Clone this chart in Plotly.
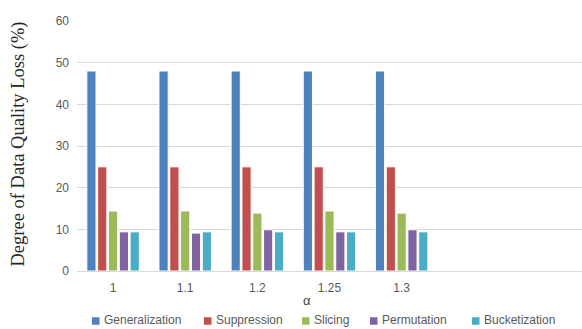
import plotly.graph_objects as go

# alpha values on the x axis (two spare slots are left empty on the right)
alphas = ["1", "1.1", "1.2", "1.25", "1.3"]
n_slots = 7

series_names = ["Generalization", "Suppression", "Slicing", "Permutation", "Bucketization"]
generalization = [48, 48, 48, 48, 48]
suppression = [25, 25, 25, 25, 25]
slicing = [14.4, 14.4, 13.9, 14.4, 13.9]
permutation = [9.4, 9.1, 9.9, 9.4, 9.9]
bucketization = [9.4, 9.4, 9.4, 9.4, 9.4]

colors = ["#4F81BD", "#C0504D", "#9BBB59", "#8064A2", "#4BACC6"]
series_values = [generalization, suppression, slicing, permutation, bucketization]

# figure geometry (pixels)
W, H = 582, 329
ML, MR, MT, MB = 77, 0, 21, 58
PW, PH = W - ML - MR, H - MT - MB


def px_x(px):
    return (px - ML) / PW


def px_y(py):
    return (H - MB - py) / PH


fig = go.Figure()
for name, vals, col in zip(series_names, series_values, colors):
    fig.add_trace(go.Bar(
        name=name, x=alphas, y=vals, showlegend=False,
        marker=dict(color=col, line=dict(color="white", width=1)),
    ))

tick_font = dict(family="Liberation Sans, Arial, sans-serif", size=12, color="#595959")
legend_font = dict(family="Liberation Sans, Arial, sans-serif", size=12, color="#595959")

# bottom legend row: small colour squares followed by the series names
legend_left = [92, 204, 302, 370, 472]
legend_cy = 321
sq = 7.5
shapes, annotations = [], []
for name, col, lx in zip(series_names, colors, legend_left):
    shapes.append(dict(
        type="rect", xref="paper", yref="paper",
        x0=px_x(lx), x1=px_x(lx + sq),
        y0=px_y(legend_cy + sq / 2), y1=px_y(legend_cy - sq / 2),
        fillcolor=col, line=dict(width=0), layer="above",
    ))
    annotations.append(dict(
        text=name, xref="paper", yref="paper",
        x=px_x(lx + sq + 2.5), y=px_y(legend_cy - 1),
        xanchor="left", yanchor="middle", showarrow=False, font=legend_font,
    ))

annotations += [
    dict(text="Degree of Data Quality Loss (%)", textangle=-90,
         xref="paper", yref="paper", x=px_x(18), y=px_y(144.5),
         xanchor="center", yanchor="middle", showarrow=False,
         font=dict(family="Liberation Serif, Times New Roman, serif", size=18.5, color="#262626")),
    dict(text="α", xref="paper", yref="paper", x=px_x(307), y=px_y(300),
         xanchor="center", yanchor="middle", showarrow=False,
         font=dict(family="Liberation Sans, Arial, sans-serif", size=13, color="#404040")),
]

fig.update_layout(
    width=W, height=H,
    margin=dict(l=ML, r=MR, t=MT, b=MB, autoexpand=False),
    paper_bgcolor="white", plot_bgcolor="white",
    barmode="group", bargap=0.25, bargroupgap=0.15,
    showlegend=False,
    xaxis=dict(
        type="category", categoryorder="array", categoryarray=alphas,
        range=[-0.5, n_slots - 0.5],
        showline=True, linecolor="#d9d9d9", linewidth=1,
        showgrid=False, ticks="", tickfont=tick_font, ticklabelstandoff=6,
    ),
    yaxis=dict(
        range=[0, 60], dtick=10, tick0=0,
        showgrid=True, gridcolor="#d9d9d9", gridwidth=1,
        zeroline=False, showline=False, ticks="",
        tickfont=tick_font, ticklabelstandoff=7,
    ),
    shapes=shapes,
    annotations=annotations,
)

fig.write_html("out.html")
